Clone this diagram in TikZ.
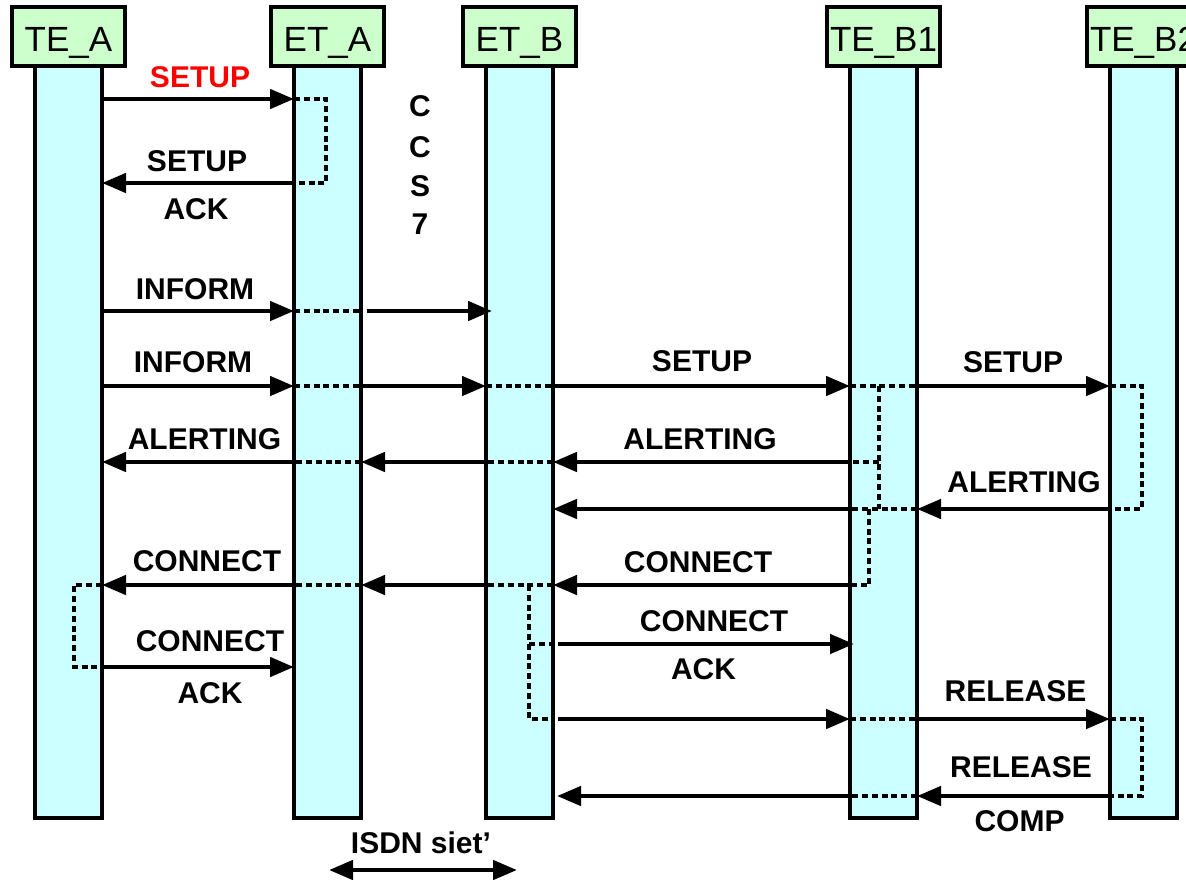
\documentclass[tikz,border=0pt]{standalone}
\usepackage{fontspec}
\setmainfont{Liberation Sans}
\usetikzlibrary{arrows.meta}
\definecolor{headgreen}{HTML}{CCFFCC}
\definecolor{barcyan}{HTML}{CCFFFF}
\definecolor{msgred}{HTML}{FF0000}

\begin{document}
\begin{tikzpicture}[x=1pt,y=-1pt,
  bar/.style={draw=black, line width=3.3pt, fill=barcyan, minimum width=67pt,
    minimum height=752pt, anchor=north, inner sep=0pt, outer sep=0pt},
  head/.style={draw=black, line width=3.3pt, fill=headgreen, minimum width=113pt,
    minimum height=59pt, anchor=south, inner sep=0pt, outer sep=0pt,
    text height=30pt, text depth=0pt, font=\fontsize{35}{40}\selectfont},
  lbl/.style={font=\bfseries\fontsize{30}{34}\selectfont, inner sep=0pt},
  msg/.style={line width=4.6pt, -{Triangle[length=24pt,width=19pt]}},
  both/.style={line width=4.6pt, {Triangle[length=24pt,width=19pt]}-{Triangle[length=24pt,width=19pt]}},
  via/.style={line width=3.4pt, dash pattern=on 6pt off 3.8pt, line join=miter},
]
\useasboundingbox (0,0) rectangle (1186,879);
\clip (0,0) rectangle (1186,879);

% lifelines
\node[bar] (tea)  at (68.5,66)  {};
\node[bar] (eta)  at (327.5,66) {};
\node[bar] (etb)  at (519.5,66) {};
\node[bar] (teb1) at (883.5,66) {};
\node[bar] (teb2) at (1143.5,66) {};

% lifeline heads
\node[head] (teah)  at (tea.north)  {TE\_A};
\node[head] (etah)  at (eta.north)  {ET\_A};
\node[head] (etbh)  at (etb.north)  {ET\_B};
\node[head] (teb1h) at (teb1.north) {TE\_B1};
\node[head] (teb2h) at (teb2.north) {TE\_B2};

% message rows
\coordinate (rA) at (0,99);
\coordinate (rB) at (0,183);
\coordinate (rC) at (0,311);
\coordinate (rD) at (0,386);
\coordinate (rE) at (0,462);
\coordinate (rF) at (0,509);
\coordinate (rG) at (0,585);
\coordinate (rH) at (0,644);
\coordinate (rI) at (0,667);
\coordinate (rJ) at (0,719);
\coordinate (rK) at (0,796);

% columns of the internal dashed links
\coordinate (xA)  at (326,0);
\coordinate (xB)  at (879,0);
\coordinate (xB2) at (869,0);
\coordinate (xC)  at (1142,0);
\coordinate (xD)  at (74,0);
\coordinate (xE)  at (529,0);

% SETUP / SETUP ACK
\draw[msg] (tea.east |- rA) -- (eta.west |- rA);
\draw[via] (eta.west |- rA) -- (xA |- rA) -- (xA |- rB) -- (eta.west |- rB);
\draw[msg] (eta.west |- rB) -- (tea.east |- rB);

% INFORM (first)
\draw[msg] (tea.east |- rC) -- (eta.west |- rC);
\draw[via] (eta.west |- rC) -- (eta.east |- rC);
\draw[msg] ([xshift=6pt]eta.east |- rC) -- ([xshift=6pt]etb.west |- rC);

% INFORM (second) and SETUP towards the called side
\draw[msg] (tea.east |- rD) -- (eta.west |- rD);
\draw[via] (eta.west |- rD) -- (eta.east |- rD);
\draw[msg] (eta.east |- rD) -- (etb.west |- rD);
\draw[via] (etb.west |- rD) -- (etb.east |- rD);
\draw[msg] (etb.east |- rD) -- (teb1.west |- rD);
\draw[via] (teb1.west |- rD) -- (teb1.east |- rD);
\draw[via] (xB |- rD) -- (xB |- rF);
\draw[msg] (teb1.east |- rD) -- (teb2.west |- rD);
\draw[via] (teb2.west |- rD) -- (xC |- rD) -- (xC |- rF) -- (teb2.west |- rF);

% ALERTING
\draw[via] (xB |- rE) -- (teb1.west |- rE);
\draw[msg] (teb1.west |- rE) -- (etb.east |- rE);
\draw[via] (etb.east |- rE) -- (etb.west |- rE);
\draw[msg] (etb.west |- rE) -- (eta.east |- rE);
\draw[via] (eta.east |- rE) -- (eta.west |- rE);
\draw[msg] (eta.west |- rE) -- (tea.east |- rE);

\draw[msg] (teb2.west |- rF) -- (teb1.east |- rF);
\draw[via] (teb1.east |- rF) -- (teb1.west |- rF);
\draw[msg] (teb1.west |- rF) -- (etb.east |- rF);
\draw[via] (xB2 |- rF) -- (xB2 |- rG) -- (teb1.west |- rG);

% CONNECT
\draw[msg] (teb1.west |- rG) -- (etb.east |- rG);
\draw[via] (etb.east |- rG) -- (etb.west |- rG);
\draw[msg] (etb.west |- rG) -- (eta.east |- rG);
\draw[via] (eta.east |- rG) -- (eta.west |- rG);
\draw[msg] (eta.west |- rG) -- (tea.east |- rG);
\draw[via] (tea.east |- rG) -- (xD |- rG) -- (xD |- rI) -- (tea.east |- rI);
\draw[msg] (tea.east |- rI) -- (eta.west |- rI);

% CONNECT ACK and RELEASE on the called side
\draw[via] (xE |- rG) -- (xE |- rJ) -- (etb.east |- rJ);
\draw[via] (xE |- rH) -- (etb.east |- rH);
\draw[msg] ([xshift=5pt]etb.east |- rH) -- ([xshift=4pt]teb1.west |- rH);
\draw[msg] ([xshift=5pt]etb.east |- rJ) -- (teb1.west |- rJ);
\draw[via] (teb1.west |- rJ) -- (teb1.east |- rJ);
\draw[msg] (teb1.east |- rJ) -- (teb2.west |- rJ);
\draw[via] (teb2.west |- rJ) -- (xC |- rJ) -- (xC |- rK) -- (teb2.west |- rK);

% RELEASE COMP
\draw[msg] (teb2.west |- rK) -- (teb1.east |- rK);
\draw[via] (teb1.east |- rK) -- (teb1.west |- rK);
\draw[msg] (teb1.west |- rK) -- ([xshift=4pt]etb.east |- rK);

% message labels
\node[lbl, text=msgred] (l1) at (200,77.5) {SETUP};
\node[lbl] (l2a) at (197,161) {SETUP};
\node[lbl] (l2b) at (196,209) {ACK};
\node[lbl] (c1) at (420,106) {C};
\node[lbl] (c2) at (420,147) {C};
\node[lbl] (c3) at (420,186) {S};
\node[lbl] (c4) at (420,224) {7};
\node[lbl] (l3) at (195,289) {INFORM};
\node[lbl] (l4) at (193,362.5) {INFORM};
\node[lbl] (l5) at (702,361) {SETUP};
\node[lbl] (l6) at (1013,362.5) {SETUP};
\node[lbl] (l7) at (204.5,439) {ALERTING};
\node[lbl] (l8) at (700,439) {ALERTING};
\node[lbl] (l9) at (1024,482) {ALERTING};
\node[lbl] (l10) at (207,561) {CONNECT};
\node[lbl] (l11) at (698,562.5) {CONNECT};
\node[lbl] (l12a) at (210,641.5) {CONNECT};
\node[lbl] (l12b) at (210,693.5) {ACK};
\node[lbl] (l13a) at (714,621) {CONNECT};
\node[lbl] (l13b) at (703.5,669.5) {ACK};
\node[lbl] (l14) at (1015.5,691) {RELEASE};
\node[lbl] (l15a) at (1021,767.5) {RELEASE};
\node[lbl] (l15b) at (1019.5,821) {COMP};

% extent of the network
\node[lbl] (isdn) at (421,842.5) {ISDN siet’};
\coordinate (isdnL) at (329,870);
\coordinate (isdnR) at (517,870);
\draw[both] (isdnL) -- (isdnR);
\end{tikzpicture}
\end{document}
